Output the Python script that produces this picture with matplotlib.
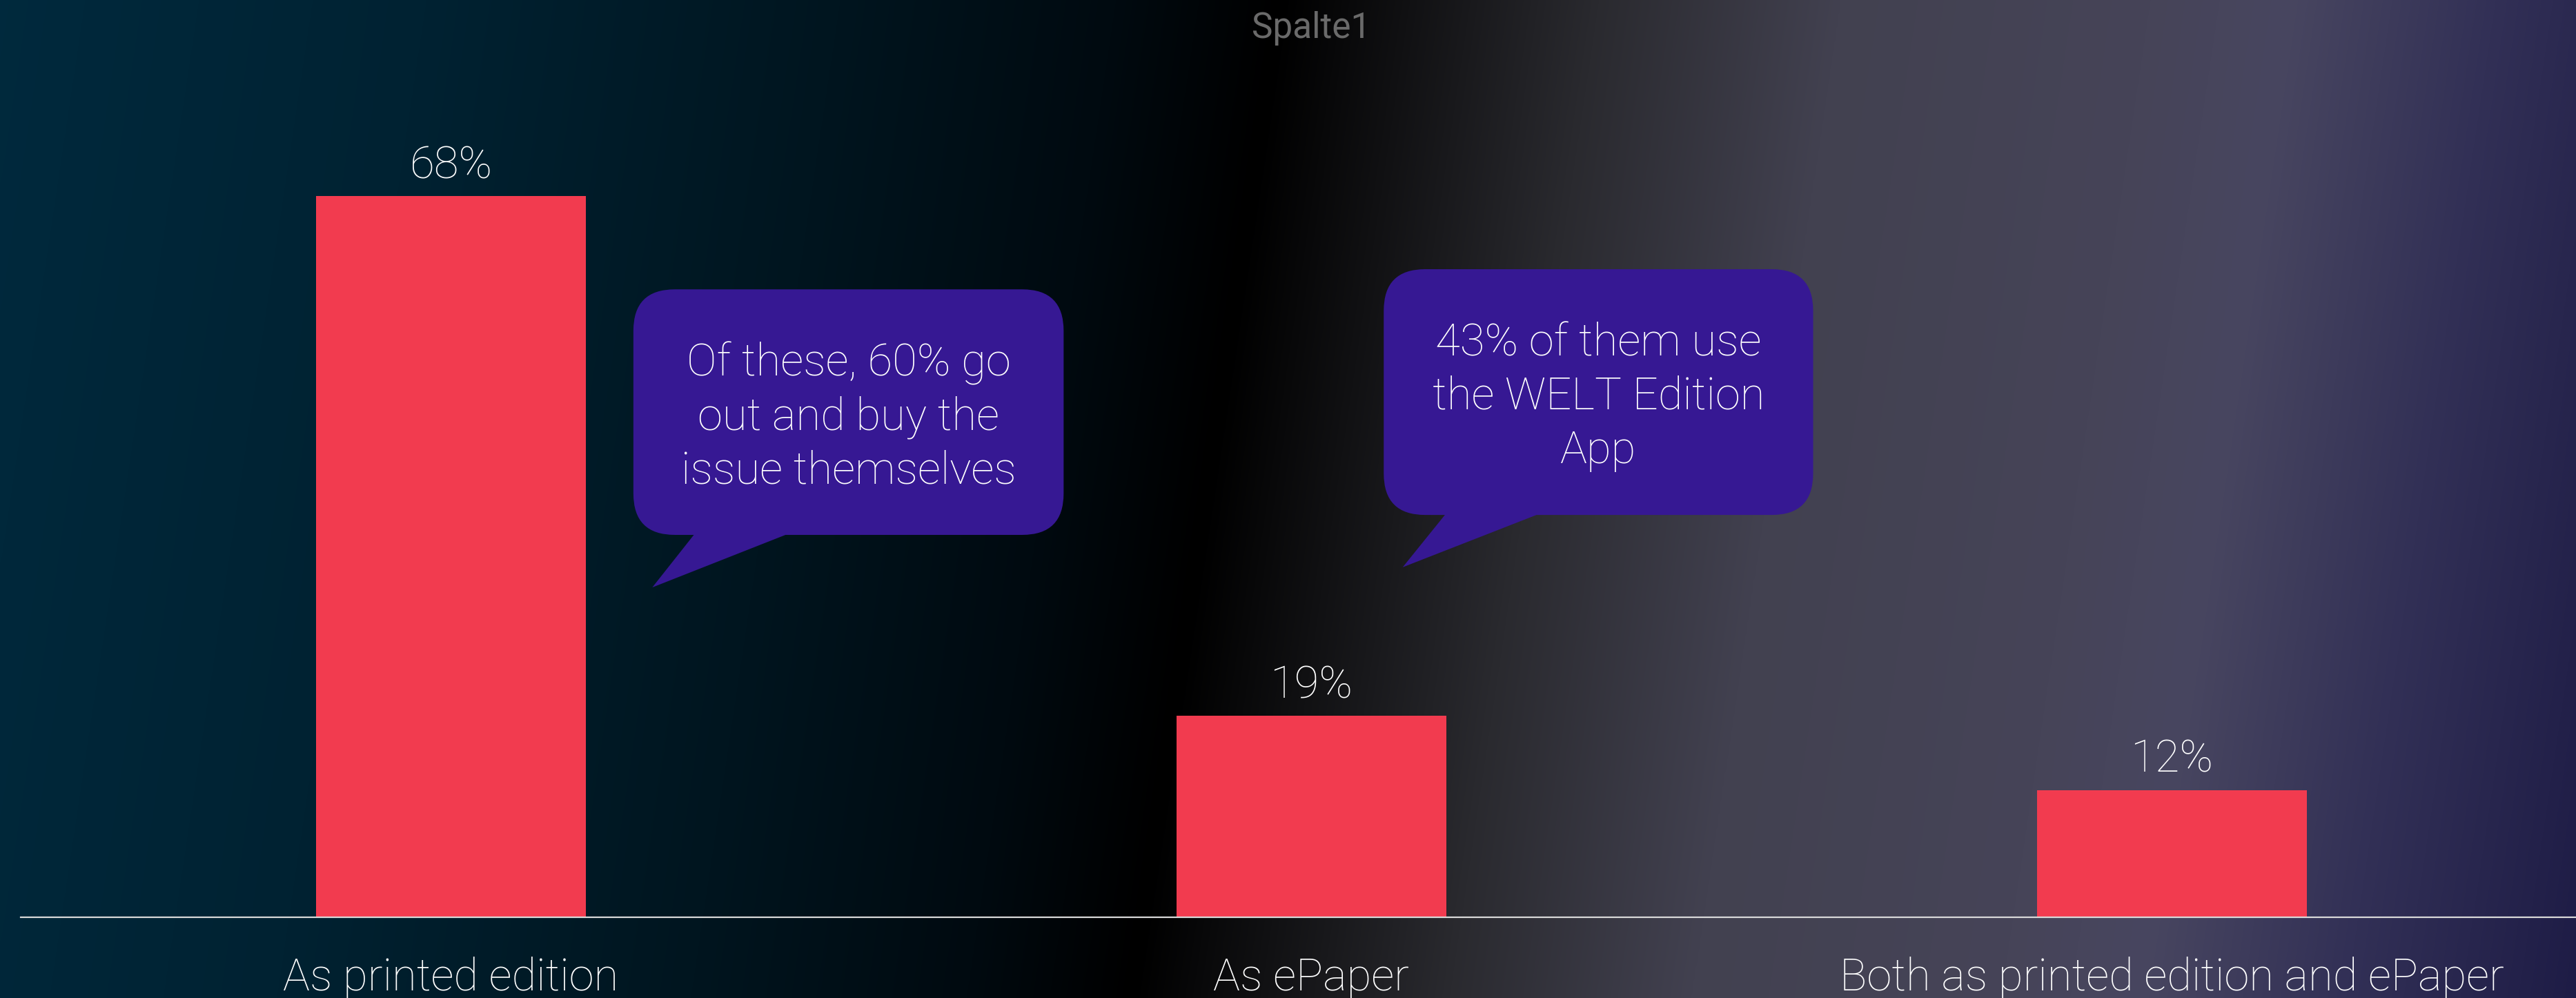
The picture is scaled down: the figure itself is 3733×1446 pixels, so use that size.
import numpy as np
import matplotlib
matplotlib.use("Agg")
import matplotlib.pyplot as plt
from matplotlib.patches import FancyBboxPatch, Polygon

categories = ["As printed edition", "As ePaper", "Both as printed edition and ePaper"]
shares = [68, 19, 12]
value_labels = ["68%", "19%", "12%"]
series_name = "Spalte1"
callout_texts = ["Of these, 60% go\nout and buy the\nissue themselves",
                 "43% of them use\nthe WELT Edition\nApp"]

W, H, DPI = 3733, 1446, 100
BAR_COLOR = "#F23B4F"
BUBBLE_COLOR = "#361893"
FS = 47

plt.rcParams['font.family'] = ['Roboto', 'DejaVu Sans']

fig = plt.figure(figsize=(W / DPI, H / DPI), dpi=DPI)

# background: slanted multi-stop gradient
bg = fig.add_axes([0, 0, 1, 1], zorder=0)
ys, xs = np.mgrid[0:H:3, 0:W:3]
u = xs - 0.15 * (H - ys)
stops = [-260, 400, 1000, 1400, 1640, 2100, 2450, 2900, 3100, 3400, 3733]
cols = np.array([(0, 42, 62), (0, 34, 50), (0, 21, 31), (0, 10, 16), (0, 0, 0),
                 (42, 42, 47), (66, 65, 80), (70, 68, 88), (72, 70, 96),
                 (50, 48, 86), (30, 28, 70)]) / 255
img = np.dstack([np.interp(u, stops, cols[:, i]) for i in range(3)])
bg.imshow(img, extent=(0, 1, 0, 1), aspect='auto', interpolation='bilinear')
bg.axis('off')

# main axes (extends a little past the right edge, like the source)
ax_left, ax_right, base_y = 30, 3771, 1329
ax = fig.add_axes([ax_left / W, (H - base_y) / H, (ax_right - ax_left) / W, base_y / H], zorder=1)
ax.patch.set_alpha(0)
ytop = base_y / (1045 / 68)
ax.set_xlim(-0.5, len(categories) - 0.5)
ax.set_ylim(0, ytop)
px_x = (ax_right - ax_left) / len(categories)
px_y = base_y / ytop

x = np.arange(len(categories))
ax.bar(x, shares, width=0.3135, color=BAR_COLOR, zorder=2)

for i, (v, lbl) in enumerate(zip(shares, value_labels)):
    ax.annotate(lbl, (i, v), xytext=(0, 18.7), textcoords='offset points',
                ha='center', va='baseline', fontsize=FS, color='white', fontweight='light')
for i, cat in enumerate(categories):
    ax.annotate(cat, (i, 0), xytext=(0, -76.3), textcoords='offset points',
                ha='center', va='baseline', fontsize=FS, color='white', fontweight='light',
                annotation_clip=False)

for s in ['top', 'left', 'right']:
    ax.spines[s].set_visible(False)
ax.spines['bottom'].set_color('#D9D9D9')
ax.spines['bottom'].set_linewidth(1.6)
ax.set_xticks([])
ax.set_yticks([])

ax.text(0.5, 1 - 55 / base_y, series_name, transform=ax.transAxes, ha='center',
        va='baseline', fontsize=37, color='#6A6A6A')

# speech bubbles: (box x0, x1, y0, y1, tail base x0, x1, tip x, tip y) in data units
bubbles = [(0.212, 0.712, 36.05, 59.2, 0.292, 0.420, 0.234, 31.1),
           (1.084, 1.583, 37.93, 61.1, 1.165, 1.293, 1.106, 33.0)]
R = 60
for (bx0, bx1, by0, by1, tx0, tx1, px, py), txt in zip(bubbles, callout_texts):
    box = FancyBboxPatch((bx0, by0), bx1 - bx0, by1 - by0,
                         boxstyle=f"round,pad=0,rounding_size={R / px_x}",
                         mutation_aspect=px_x / px_y, fc=BUBBLE_COLOR, ec='none', zorder=3)
    ax.add_patch(box)
    ax.add_patch(Polygon([(tx0, by0 + 1), (tx1, by0 + 1), (px, py)], closed=True,
                         fc=BUBBLE_COLOR, ec='none', zorder=3))
    ax.text((bx0 + bx1) / 2, (by0 + by1) / 2 - 0.45, txt, ha='center', va='center',
            fontsize=FS, color='white', fontweight='light', linespacing=1.32, zorder=4)

fig.savefig("out.png", dpi=DPI)
